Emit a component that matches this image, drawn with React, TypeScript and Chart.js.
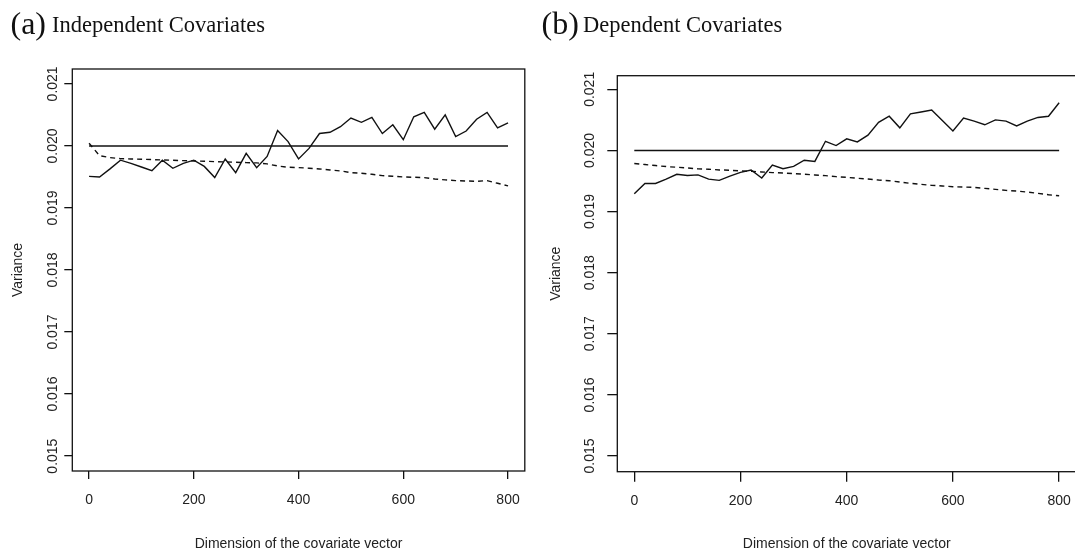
import React, { useEffect, useRef } from "react";
import { Chart, registerables } from "chart.js";

Chart.register(...registerables);

// ---------- data ----------
const dimensions = [
  0, 20, 40, 60, 80, 100, 120, 140, 160, 180, 200, 220, 240, 260, 280, 300, 320, 340, 360, 380,
  400, 420, 440, 460, 480, 500, 520, 540, 560, 580, 600, 620, 640, 660, 680, 700, 720, 740, 760, 780, 800,
];

const indepSolid = [
  0.01951, 0.0195, 0.01963, 0.01977, 0.01972, 0.01966, 0.0196, 0.01977, 0.01964, 0.01972,
  0.01977, 0.01967, 0.01949, 0.01979, 0.01957, 0.01988, 0.01965, 0.01983, 0.02025, 0.02007,
  0.01979, 0.01996, 0.0202, 0.02022, 0.02031, 0.02045, 0.02038, 0.02046, 0.0202, 0.02034,
  0.0201, 0.02047, 0.02054, 0.02027, 0.0205, 0.02015, 0.02024, 0.02043, 0.02054, 0.02029, 0.02037,
];

const indepDashed = [
  0.020043, 0.019844, 0.019812, 0.019796, 0.01979, 0.019785, 0.01978, 0.019774, 0.019769, 0.019763,
  0.019758, 0.019753, 0.019747, 0.019742, 0.019737, 0.019731, 0.019726, 0.01971, 0.019677, 0.019656,
  0.019651, 0.01964, 0.019629, 0.019613, 0.019597, 0.01957, 0.019559, 0.019543, 0.019522, 0.019511,
  0.0195, 0.019495, 0.019489, 0.019468, 0.019452, 0.019441, 0.019435, 0.01943, 0.019441, 0.019398, 0.019355,
];

const depSolid = [
  0.01929, 0.01946, 0.01946, 0.01953, 0.01961, 0.01959, 0.0196, 0.01953, 0.01951, 0.01958,
  0.01964, 0.01968, 0.01955, 0.01976, 0.0197, 0.01974, 0.01984, 0.01982, 0.02015, 0.02008,
  0.02019, 0.02014, 0.02025, 0.02046, 0.02056, 0.02037, 0.0206, 0.02063, 0.02066, 0.02049,
  0.02032, 0.02053, 0.02048, 0.02042, 0.0205, 0.02048, 0.0204, 0.02048, 0.02054, 0.02056, 0.02078,
];

const depDashed = [
  0.019786, 0.019769, 0.019753, 0.019736, 0.019725, 0.019714, 0.019698, 0.019692, 0.019681, 0.019676,
  0.019665, 0.019659, 0.019648, 0.019637, 0.019632, 0.019621, 0.01961, 0.019599, 0.019588, 0.019571,
  0.01956, 0.019544, 0.019533, 0.019516, 0.019505, 0.019484, 0.019462, 0.019445, 0.019429, 0.019418,
  0.019407, 0.019401, 0.019396, 0.019379, 0.019363, 0.019346, 0.019335, 0.019319, 0.019297, 0.019275, 0.019258,
];

const referenceLevel = 0.02;
const referenceRange = [0, 800];

const xTickValues = [0, 200, 400, 600, 800];
const xTickLabels = ["0", "200", "400", "600", "800"];
const yTickValues = [0.015, 0.016, 0.017, 0.018, 0.019, 0.02, 0.021];
const yTickLabels = ["0.015", "0.016", "0.017", "0.018", "0.019", "0.020", "0.021"];

const xAxisTitle = "Dimension of the covariate vector";
const yAxisTitle = "Variance";

// ---------- chart helpers ----------
const INK = "#111";
const SANS = "'Liberation Sans', Arial, Helvetica, sans-serif";

const boxPlugin = {
  id: "rbox",
  afterDraw(chart: any) {
    const { ctx, chartArea } = chart;
    const { left, top, right, bottom } = chartArea;
    ctx.save();
    ctx.strokeStyle = INK;
    ctx.lineWidth = 1.3;
    ctx.strokeRect(left, top, right - left, bottom - top);
    ctx.restore();
  },
};

type Layout = {
  width: number;
  height: number;
  areaLeft: number;
  areaTop: number;
  areaRight: number;
  areaBottom: number;
  tickLen: number;
  yTickPad: number;
  xTickPad: number;
  yTitlePad: number;
  xTitlePad: number;
  xMin: number;
  xMax: number;
  yMin: number;
  yMax: number;
};

function buildConfig(solid: number[], dashed: number[], L: Layout): any {
  const lineBase = {
    borderColor: INK,
    borderWidth: 1.4,
    pointRadius: 0,
    tension: 0,
    fill: false,
  };
  return {
    type: "line",
    data: {
      datasets: [
        { ...lineBase, label: "solid", data: dimensions.map((d, i) => ({ x: d, y: solid[i] })) },
        {
          ...lineBase,
          label: "dashed",
          borderDash: [5, 4],
          data: dimensions.map((d, i) => ({ x: d, y: dashed[i] })),
        },
        {
          ...lineBase,
          label: "reference",
          data: referenceRange.map((d) => ({ x: d, y: referenceLevel })),
        },
      ],
    },
    options: {
      animation: false,
      responsive: false,
      devicePixelRatio: 1,
      events: [],
      layout: {
        padding: {
          left: 0,
          top: L.areaTop,
          right: L.width - L.areaRight,
          bottom: 0,
        },
      },
      plugins: { legend: { display: false }, tooltip: { enabled: false }, title: { display: false } },
      scales: {
        x: {
          type: "linear",
          min: L.xMin,
          max: L.xMax,
          afterBuildTicks: (scale: any) => {
            scale.ticks = xTickValues.map((v) => ({ value: v }));
          },
          afterFit: (scale: any) => {
            scale.height = L.height - L.areaBottom;
          },
          border: { display: false },
          grid: {
            display: true,
            drawOnChartArea: false,
            drawTicks: true,
            tickLength: L.tickLen,
            color: INK,
            lineWidth: 1.3,
          },
          ticks: {
            autoSkip: false,
            maxRotation: 0,
            minRotation: 0,
            padding: L.xTickPad,
            color: "#222",
            font: { family: SANS, size: 14 },
            callback: (_v: any, i: number) => xTickLabels[i],
          },
          title: {
            display: true,
            text: xAxisTitle,
            color: "#222",
            font: { family: SANS, size: 14 },
            padding: { top: 0, bottom: L.xTitlePad },
          },
        },
        y: {
          type: "linear",
          min: L.yMin,
          max: L.yMax,
          afterBuildTicks: (scale: any) => {
            scale.ticks = yTickValues.map((v) => ({ value: v }));
          },
          afterFit: (scale: any) => {
            scale.width = L.areaLeft;
          },
          border: { display: false },
          grid: {
            display: true,
            drawOnChartArea: false,
            drawTicks: true,
            tickLength: L.tickLen,
            color: INK,
            lineWidth: 1.3,
          },
          ticks: {
            autoSkip: false,
            minRotation: 90,
            maxRotation: 90,
            crossAlign: "center",
            padding: L.yTickPad,
            color: "#222",
            font: { family: SANS, size: 14 },
            callback: (_v: any, i: number) => yTickLabels[i],
          },
          title: {
            display: true,
            text: yAxisTitle,
            color: "#222",
            font: { family: SANS, size: 14 },
            padding: { top: L.yTitlePad, bottom: 0 },
          },
        },
      },
    },
    plugins: [boxPlugin],
  };
}

function Panel({ solid, dashed, layout, left }: { solid: number[]; dashed: number[]; layout: Layout; left: number }) {
  const ref = useRef<HTMLCanvasElement | null>(null);
  useEffect(() => {
    if (!ref.current) return;
    const chart = new Chart(ref.current, buildConfig(solid, dashed, layout));
    return () => chart.destroy();
  }, []);
  return (
    <canvas
      ref={ref}
      width={layout.width}
      height={layout.height}
      style={{ position: "absolute", left, top: 0, width: layout.width, height: layout.height }}
    />
  );
}

const leftLayout: Layout = {
  width: 540,
  height: 551,
  areaLeft: 72.3,
  areaTop: 69,
  areaRight: 524.8,
  areaBottom: 471,
  tickLen: 8,
  yTickPad: -6.2,
  xTickPad: 12.6,
  yTitlePad: 10.2,
  xTitlePad: -2,
  xMin: -32,
  xMax: 832,
  yMin: 0.01476,
  yMax: 0.02124,
};

const rightLayout: Layout = {
  width: 545,
  height: 551,
  areaLeft: 80.3,
  areaTop: 75.7,
  areaRight: 540,
  areaBottom: 471.7,
  tickLen: 10,
  yTickPad: -0.2,
  xTickPad: 11,
  yTitlePad: 10.6,
  xTitlePad: -2,
  xMin: -32,
  xMax: 832,
  yMin: 0.014743,
  yMax: 0.021223,
};

const SERIF = "'Liberation Serif', 'Times New Roman', serif";

function Label({ text, left, baseline, size }: { text: string; left: number; baseline: number; size: number }) {
  return (
    <div
      style={{
        position: "absolute",
        left,
        top: baseline - 0.3375 * size,
        height: 0,
        lineHeight: 0,
        fontFamily: SERIF,
        fontSize: size,
        color: "#111",
        whiteSpace: "nowrap",
      }}
    >
      {text}
    </div>
  );
}

export default function App() {
  return (
    <div
      style={{
        position: "fixed",
        left: 0,
        top: 0,
        width: 1075,
        height: 551,
        overflow: "hidden",
        background: "#fff",
      }}
    >
      <Panel solid={indepSolid} dashed={indepDashed} layout={leftLayout} left={0} />
      <Panel solid={depSolid} dashed={depDashed} layout={rightLayout} left={537} />
      <Label text="(a)" left={10.5} baseline={33.3} size={32} />
      <Label text="Independent Covariates" left={52} baseline={32.3} size={22.5} />
      <Label text="(b)" left={541.5} baseline={33.3} size={32} />
      <Label text="Dependent Covariates" left={583} baseline={32.3} size={22.5} />
    </div>
  );
}
